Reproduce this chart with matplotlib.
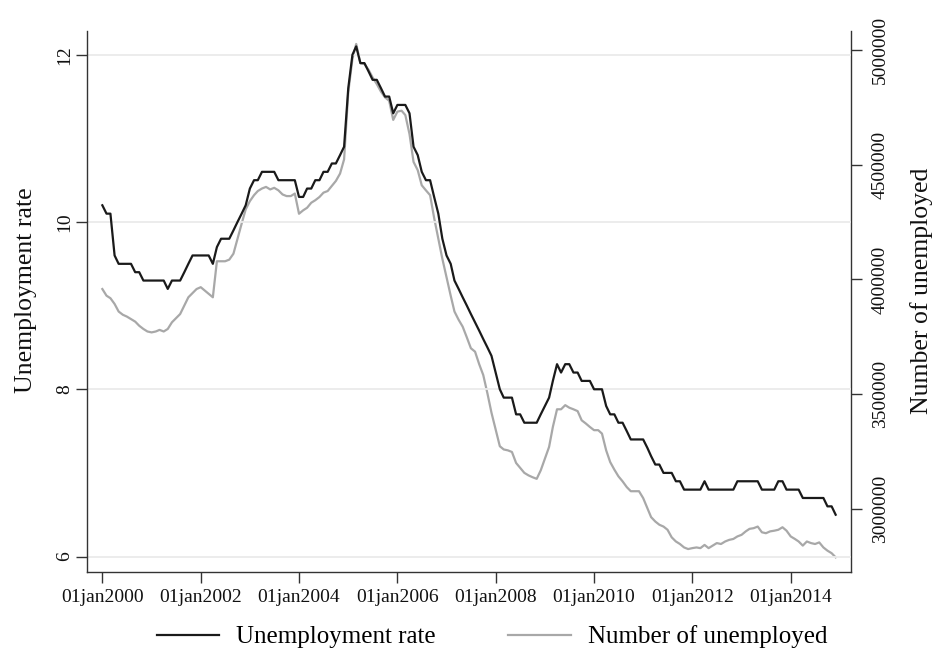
import numpy as np
import pandas as pd
import matplotlib
matplotlib.use("Agg")
import matplotlib.pyplot as plt
from matplotlib.lines import Line2D

# Monthly series, Jan 2000 - Dec 2014
months = pd.date_range("2000-01-01", periods=180, freq="MS")

# Unemployment rate (%)
unemp_rate = [
    10.2, 10.1, 10.1, 9.6, 9.5, 9.5, 9.5, 9.5, 9.4, 9.4,
    9.3, 9.3, 9.3, 9.3, 9.3, 9.3, 9.2, 9.3, 9.3, 9.3,
    9.4, 9.5, 9.6, 9.6, 9.6, 9.6, 9.6, 9.5, 9.7, 9.8,
    9.8, 9.8, 9.9, 10.0, 10.1, 10.2, 10.4, 10.5, 10.5, 10.6,
    10.6, 10.6, 10.6, 10.5, 10.5, 10.5, 10.5, 10.5, 10.3, 10.3,
    10.4, 10.4, 10.5, 10.5, 10.6, 10.6, 10.7, 10.7, 10.8, 10.9,
    11.6, 12.0, 12.1, 11.9, 11.9, 11.8, 11.7, 11.7, 11.6, 11.5,
    11.5, 11.3, 11.4, 11.4, 11.4, 11.3, 10.9, 10.8, 10.6, 10.5,
    10.5, 10.3, 10.1, 9.8, 9.6, 9.5, 9.3, 9.2, 9.1, 9.0,
    8.9, 8.8, 8.7, 8.6, 8.5, 8.4, 8.2, 8.0, 7.9, 7.9,
    7.9, 7.7, 7.7, 7.6, 7.6, 7.6, 7.6, 7.7, 7.8, 7.9,
    8.1, 8.3, 8.2, 8.3, 8.3, 8.2, 8.2, 8.1, 8.1, 8.1,
    8.0, 8.0, 8.0, 7.8, 7.7, 7.7, 7.6, 7.6, 7.5, 7.4,
    7.4, 7.4, 7.4, 7.3, 7.2, 7.1, 7.1, 7.0, 7.0, 7.0,
    6.9, 6.9, 6.8, 6.8, 6.8, 6.8, 6.8, 6.9, 6.8, 6.8,
    6.8, 6.8, 6.8, 6.8, 6.8, 6.9, 6.9, 6.9, 6.9, 6.9,
    6.9, 6.8, 6.8, 6.8, 6.8, 6.9, 6.9, 6.8, 6.8, 6.8,
    6.8, 6.7, 6.7, 6.7, 6.7, 6.7, 6.7, 6.6, 6.6, 6.5,
]

# Number of unemployed (thousands)
unemployed_k = [
    3958, 3929, 3918, 3893, 3860, 3846, 3838, 3827, 3816, 3798,
    3784, 3773, 3769, 3773, 3780, 3773, 3784, 3813, 3831, 3849,
    3886, 3922, 3940, 3958, 3966, 3951, 3937, 3922, 4079, 4079,
    4079, 4086, 4112, 4177, 4243, 4305, 4341, 4367, 4385, 4396,
    4403, 4392, 4399, 4388, 4370, 4363, 4363, 4374, 4286, 4301,
    4312, 4334, 4345, 4359, 4378, 4385, 4407, 4429, 4461, 4523,
    4815, 4961, 5026, 4942, 4939, 4913, 4880, 4851, 4818, 4793,
    4778, 4695, 4731, 4735, 4716, 4633, 4512, 4476, 4410, 4388,
    4367, 4268, 4177, 4090, 4009, 3929, 3860, 3824, 3794, 3747,
    3700, 3685, 3630, 3583, 3503, 3419, 3346, 3273, 3259, 3255,
    3248, 3200, 3179, 3157, 3146, 3138, 3131, 3168, 3219, 3270,
    3357, 3434, 3434, 3452, 3441, 3434, 3426, 3386, 3372, 3357,
    3343, 3343, 3328, 3255, 3204, 3171, 3142, 3120, 3095, 3077,
    3077, 3077, 3047, 3004, 2964, 2945, 2931, 2923, 2909, 2876,
    2858, 2847, 2832, 2825, 2829, 2832, 2829, 2843, 2829, 2840,
    2851, 2847, 2858, 2865, 2869, 2880, 2887, 2902, 2913, 2916,
    2923, 2898, 2894, 2902, 2905, 2909, 2920, 2905, 2880, 2869,
    2858, 2840, 2858, 2851, 2847, 2854, 2832, 2818, 2807, 2789,
]
unemployed = np.array(unemployed_k) * 1000

rate_ticks = [6, 8, 10, 12]
count_ticks = [3000000, 3500000, 4000000, 4500000, 5000000]
tick_years = [2000, 2002, 2004, 2006, 2008, 2010, 2012, 2014]

plt.rcParams["font.family"] = ["Liberation Serif", "DejaVu Serif"]
axis_col = "#333333"
text_col = "#111111"

fig = plt.figure(figsize=(9.34, 6.59), dpi=100)
ax = fig.add_axes([87 / 934, 87 / 659, 764 / 934, 541.5 / 659])
ax2 = ax.twinx()

for y in rate_ticks:
    ax.axhline(y, color="#ebebeb", lw=1.3, zorder=0)

ax.plot(months, unemp_rate, color="#1a1a1a", lw=1.6, zorder=3)
ax2.plot(months, unemployed, color="#a8a8a8", lw=1.6, zorder=2)
ax.set_zorder(ax2.get_zorder() + 1)
ax.patch.set_visible(False)

pad = pd.Timedelta(days=114)
ax.set_xlim(months[0] - pad, months[-1] + pad)
ax.set_ylim(5.815, 12.29)
ax2.set_ylim(2725000, 5084500)

xt = [pd.Timestamp(f"{y}-01-01") for y in tick_years]
ax.set_xticks(xt)
ax.set_xticklabels([f"01jan{y}" for y in tick_years])
ax.set_yticks(rate_ticks)
ax.set_yticklabels([str(v) for v in rate_ticks], rotation=90, va="center")
ax2.set_yticks(count_ticks)
ax2.set_yticklabels([str(v) for v in count_ticks], rotation=90, va="center")

for a in (ax, ax2):
    a.spines["top"].set_visible(False)
    for s in a.spines.values():
        s.set_color(axis_col)
        s.set_linewidth(1.0)
ax.spines["right"].set_visible(False)
ax2.spines["left"].set_visible(False)
ax2.spines["bottom"].set_visible(False)

ax.tick_params(axis="x", length=8, width=1.0, color=axis_col,
               labelsize=14, labelcolor=text_col, pad=4)
ax.tick_params(axis="y", length=8, width=1.0, color=axis_col,
               labelsize=14, labelcolor=text_col, pad=2)
ax2.tick_params(axis="y", length=8, width=1.0, color=axis_col,
                labelsize=14, labelcolor=text_col, pad=7)

ax.set_ylabel("Unemployment rate", fontsize=18.5, color=text_col, labelpad=13.5)
ax2.set_ylabel("Number of unemployed", fontsize=18.5, color=text_col, labelpad=15.5)
ax.yaxis.label.set_y(0.52)
ax2.yaxis.label.set_y(0.52)

handles = [
    Line2D([], [], color="#1a1a1a", lw=1.6),
    Line2D([], [], color="#a8a8a8", lw=1.6),
]
fig.legend(handles, ["Unemployment rate", "Number of unemployed"],
           loc="center", bbox_to_anchor=(492 / 934, 1 - 637 / 659), ncol=2,
           frameon=False, fontsize=18, handlelength=2.5,
           handletextpad=0.68, columnspacing=2.9)

fig.savefig("out.png", dpi=100)
